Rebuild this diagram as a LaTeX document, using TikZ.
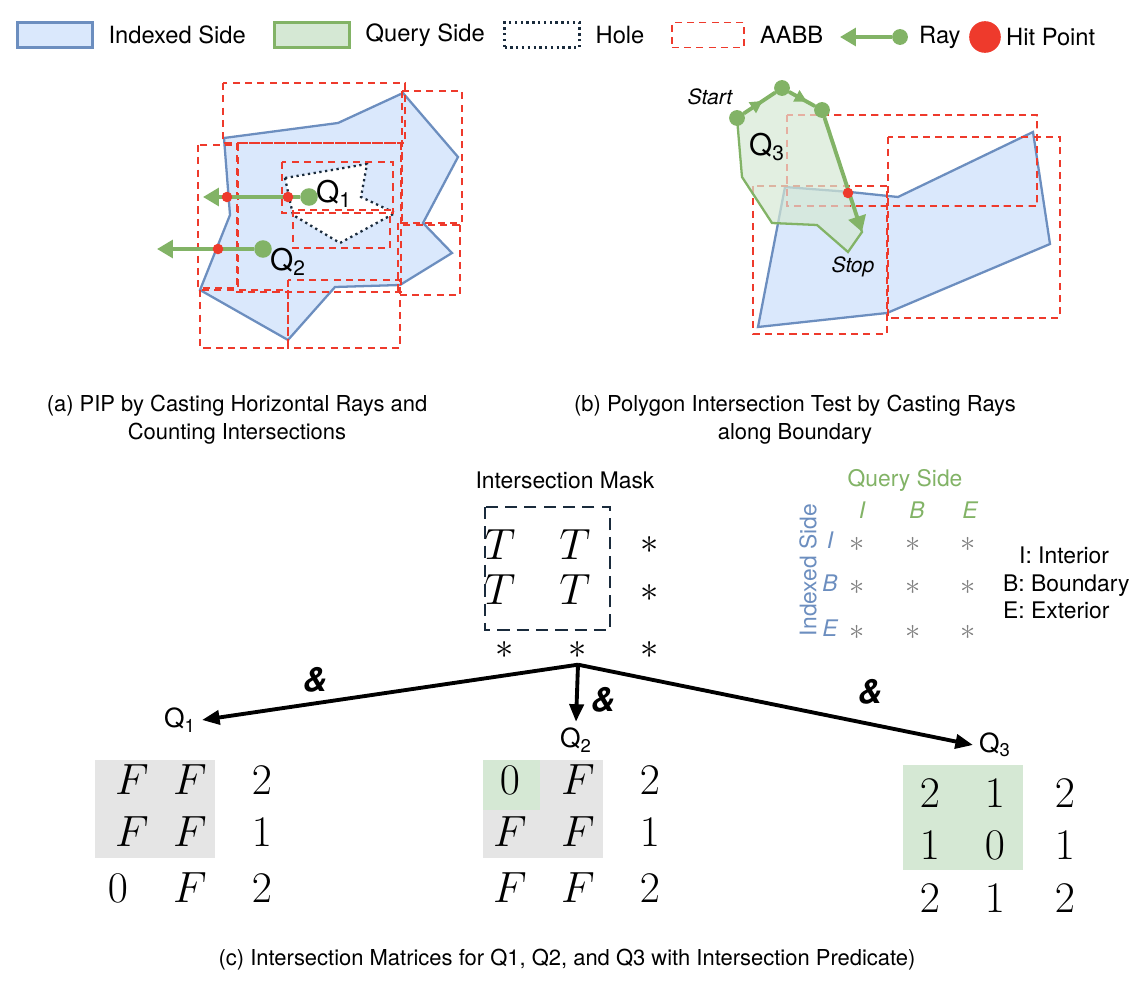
\documentclass[tikz,border=0pt]{standalone}
\usepackage{fontspec}
\setmainfont{TeX Gyre Heros}
\usepackage{amsmath}
\usepackage{tikz}
\usetikzlibrary{arrows.meta,positioning,decorations.markings}
\definecolor{idxfill}{HTML}{DAE8FC}
\definecolor{idxline}{HTML}{6C8EBF}
\definecolor{qfill}{HTML}{D5E8D4}
\definecolor{qline}{HTML}{82B366}
\definecolor{aabb}{HTML}{EE3A2C}
\definecolor{hole}{HTML}{1A2B3C}
\tikzset{
	indexed/.style={fill=idxfill, draw=idxline, line width=1.3pt},
	query/.style={fill=qfill, draw=qline, line width=1.3pt},
	holeline/.style={draw=hole, line width=1.3pt, dotted},
	box/.style={draw=aabb, line width=0.9pt, dash pattern=on 4pt off 3pt},
	ray/.style={draw=qline, line width=2.2pt, -{Triangle[length=9pt,width=10pt]}},
	hit/.style={circle, fill=aabb, inner sep=0pt, minimum size=6pt},
	vtx/.style={circle, fill=qline, inner sep=0pt, minimum size=9pt},
	lbl/.style={font=\fontsize{13}{15.5}\selectfont},
	caption/.style={font=\fontsize{12.5}{16}\selectfont, align=center},
	big/.style={font=\fontsize{26}{28}\selectfont},
	legtext/.style={font=\fontsize{13.5}{16}\selectfont, anchor=west},
	thick arrow/.style={line width=2.2pt, -{Triangle[length=10pt,width=8pt]}},
}
\begin{document}
\begin{tikzpicture}[x=0.02cm, y=-0.02cm]
		\useasboundingbox (0,0) rectangle (1147,1000);
		% Legend:
		\node[indexed, minimum width=1.5cm, minimum height=0.5cm](L1) at (55,35){};
		\node[legtext, right=5pt of L1](L1t){Indexed Side};
		\node[query, minimum width=1.5cm, minimum height=0.5cm](L2) at (312,35){};
		\node[legtext, right=5pt of L2](L2t){Query Side};
		\node[holeline, minimum width=1.5cm, minimum height=0.5cm](L3) at (542,35){};
		\node[legtext, right=5pt of L3](L3t){Hole};
		\node[box, minimum width=1.45cm, minimum height=0.5cm](L4) at (708,35){};
		\node[legtext, right=5pt of L4](L4t){AABB};
		\node[vtx](L5a) at (900,37){};
		\coordinate (L5b) at (840,37);
		\draw[ray] (L5a) -- (L5b);
		\node[legtext](L5t) at (913,37){Ray};
		\node[hit, minimum size=18pt](L6) at (985,37){};
		\node[legtext](L6t) at (1000,37){Hit Point};
		% (a) indexed polygon with hole:
		\draw[indexed] (224,138) -- (338,123) -- (403,93) -- (458,157) -- (423,223) -- (452,253) -- (400,285) -- (335,287) -- (288,340) -- (200,290) -- (230,215) -- cycle;
		\draw[holeline, fill=white] (285,178) -- (367,164) -- (361,197) -- (395,213) -- (340,243) -- (293,215) -- cycle;
		\draw[box] (223,83) rectangle (405,143);
		\draw[box] (402,91) rectangle (462,225);
		\draw[box] (198,145) rectangle (238,288);
		\draw[box] (237,143) rectangle (401,292);
		\draw[box] (282,162) rectangle (393,213);
		\draw[box] (293,210) rectangle (390,248);
		\draw[box] (398,223) rectangle (460,295);
		\draw[box] (288,280) rectangle (400,348);
		\draw[box] (200,290) rectangle (288,348);
		\node[vtx, minimum size=10pt](Q1s) at (309,197){};
		\coordinate (Q1e) at (203,197);
		\draw[ray] (Q1s) -- (Q1e);
		\node[hit](H1) at (227,197){};
		\node[hit](H2) at (288,197){};
		\node[font=\fontsize{17}{19}\selectfont](Q1) at (334,194){Q\textsubscript{1}};
		\node[vtx, minimum size=10pt](Q2s) at (263,249){};
		\coordinate (Q2e) at (157,249);
		\draw[ray] (Q2s) -- (Q2e);
		\node[hit](H3) at (218,249){};
		\node[font=\fontsize{17}{19}\selectfont](Q2) at (288,262){Q\textsubscript{2}};
		% (b) polygon intersection:
		\draw[indexed] (785,187) -- (850,192) -- (898,197) -- (1033,132) -- (1050,244) -- (887,313) -- (758,327) -- cycle;
		\draw[box] (888,137) rectangle (1060,318);
		\draw[box] (753,186) rectangle (887,334);
		\draw[query, fill opacity=0.7] (737,118) -- (782,88) -- (822,110) -- (862,232) -- (848,252) -- (817,225) -- (772,223) -- (742,177) -- cycle;
		\draw[box, opacity=0.35] (787,115) rectangle (1037,206);
		\draw[box] (822,115) -- (1037,115) -- (1037,206) -- (850,206);
		\node[vtx](V1) at (737,118){};
		\node[vtx](V2) at (782,88){};
		\node[vtx](V3) at (822,110){};
		\coordinate (V4) at (862,232);
		\draw[qline, line width=2.2pt, postaction={decorate}, decoration={markings, mark=at position 0.6 with {\arrow{Triangle[length=7pt,width=7pt]}}}] (V1) -- (V2);
		\draw[qline, line width=2.2pt, postaction={decorate}, decoration={markings, mark=at position 0.7 with {\arrow{Triangle[length=7pt,width=7pt]}}}] (V2) -- (V3);
		\draw[ray] (V3) -- (V4);
		\node[hit](H4) at (848,193){};
		\node[font=\fontsize{12}{14}\selectfont\itshape](St) at (710,97){Start};
		\node[font=\fontsize{17}{19}\selectfont](Q3) at (767,147){Q\textsubscript{3}};
		\node[font=\fontsize{12}{14}\selectfont\itshape](Sp) at (853,267){Stop};
		% captions:
		\node[caption](Ca) at (237,420){(a) PIP by Casting Horizontal Rays and\\Counting Intersections};
		\node[caption](Cb) at (795,420){(b) Polygon Intersection Test by Casting Rays\\along Boundary};
		\node[caption](Cc) at (567,960){(c) Intersection Matrices for Q1, Q2, and Q3 with Intersection Predicate)};
		% (c) intersection mask:
		\node[lbl](MT) at (565,480){Intersection Mask};
		\draw[hole, line width=1.5pt, dash pattern=on 7pt off 4pt] (485,507) rectangle (610,630);
		\foreach \x/\y/\t in {500/545/T, 575/545/T, 500/590/T, 575/590/T}
			\node[big] at (\x,\y){$\t$};
		\foreach \x/\y in {650/545, 650/593, 505/650, 650/650}
			\node[font=\fontsize{22}{24}\selectfont] at (\x,\y){$*$};
		\node[font=\fontsize{22}{24}\selectfont](M) at (578,650){$*$};
		\node[font=\fontsize{15}{17}\selectfont](R1) at (180,720){Q\textsubscript{1}};
		\node[font=\fontsize{15}{17}\selectfont](R2) at (576,740){Q\textsubscript{2}};
		\node[font=\fontsize{15}{17}\selectfont](R3) at (995,745){Q\textsubscript{3}};
		\draw[thick arrow] (M.south) -- (R1.east);
		\draw[thick arrow] (M.south) -- (R2.north);
		\draw[thick arrow] (M.south) -- (R3.west);
		\foreach \x/\y in {315/680, 603/700, 870/692}
			\node[font=\fontsize{19}{21}\selectfont\bfseries\itshape] at (\x,\y){\&};
		% result matrices:
		\fill[black!10] (95,760) rectangle (215,858);
		\fill[black!10] (483,760) rectangle (603,858);
		\fill[qfill] (483,760) rectangle (540,810);
		\fill[qfill] (903,765) rectangle (1023,870);
		\foreach \x/\y/\t in {132/780/F, 190/780/F, 262/780/2, 132/832/F, 190/832/F, 262/832/1, 118/888/0, 190/888/F, 262/888/2,
			510/780/0, 578/780/F, 650/780/2, 510/832/F, 578/832/F, 650/832/1, 510/888/F, 578/888/F, 650/888/2,
			930/793/2, 995/793/1, 1065/793/2, 930/845/1, 995/845/0, 1065/845/1, 930/898/2, 995/898/1, 1065/898/2}
			\node[big] at (\x,\y){$\t$};
		% DE-9IM legend:
		\node[lbl, text=qline](QS) at (905,480){Query Side};
		\node[lbl, text=idxline, rotate=90](IS) at (808,570){Indexed Side};
		\foreach \x/\t in {862/I, 917/B, 970/E}
			\node[text=qline, font=\fontsize{13}{15}\selectfont\itshape] at (\x,510){\t};
		\foreach \y/\t in {540/I, 583/B, 628/E}{
			\node[text=idxline, font=\fontsize{13}{15}\selectfont\itshape] at (830,\y){\t};
			\foreach \x in {857, 913, 968}
				\node[text=gray, font=\fontsize{17}{19}\selectfont] at (\x,\y+4){$*$};
		}
		\node[lbl, align=left, anchor=west](Key) at (997,583){\hspace*{0.7em}I: Interior\\B: Boundary\\E: Exterior};
	\end{tikzpicture}
\end{document}
